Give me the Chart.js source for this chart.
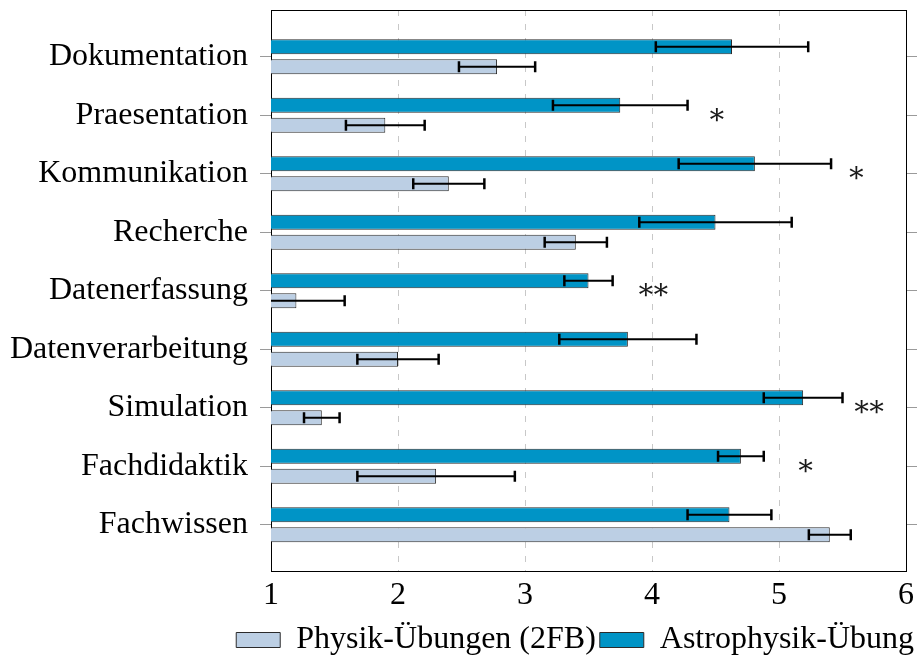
<!DOCTYPE html>
<html>
<head>
<meta charset="utf-8">
<script src="https://cdn.jsdelivr.net/npm/chart.js@4/dist/chart.umd.min.js"></script>
<style>
  body { margin: 0; background: #fff; }
  canvas { display: block; }
</style>
</head>
<body>
<canvas id="myChart" width="919" height="659"></canvas>
<script>
// Kategorien (von oben nach unten)
const categories = ["Dokumentation", "Praesentation", "Kommunikation", "Recherche", "Datenerfassung",
  "Datenverarbeitung", "Simulation", "Fachdidaktik", "Fachwissen"];

// Mittelwerte und Fehler
const astro = [4.63, 3.75, 4.81, 4.50, 3.50, 3.81, 5.19, 4.70, 4.61];
const astroErr = [0.60, 0.53, 0.60, 0.60, 0.19, 0.54, 0.31, 0.18, 0.33];
const physik = [2.78, 1.90, 2.40, 3.40, 1.20, 2.00, 1.40, 2.30, 5.40];
const physikErr = [0.30, 0.31, 0.28, 0.245, 0.38, 0.32, 0.14, 0.62, 0.165];

// Signifikanz-Sterne und wo sie stehen
const sigStars = [0, 1, 1, 0, 2, 0, 2, 1, 0];
const sigAt = [null, 4.51, 5.61, null, 4.01, null, 5.71, 5.21, null];

const xTicks = [1, 2, 3, 4, 5, 6];

const serif = "'Liberation Serif', 'Times New Roman', serif";

const toPoints = vals => vals.map((v, i) => ({ x: v, y: i }));

const data = {
  datasets: [{
      label: "Astrophysik-Übung",
      data: toPoints(astro),
      errors: astroErr,
      backgroundColor: "#0094c6",
      borderColor: "#2b2b2b",
      borderWidth: 1,
      borderSkipped: false,
    },
    {
      label: "Physik-Übungen (2FB)",
      data: toPoints(physik),
      errors: physikErr,
      backgroundColor: "#bccfe4",
      borderColor: "#2b2b2b",
      borderWidth: 1,
      borderSkipped: false,
    }
  ]
};

// Fehlerbalken + Sterne
const extras = {
  id: "extras",
  afterDatasetsDraw(chart) {
    const { ctx, chartArea, scales } = chart;
    const x = scales.x, y = scales.y;
    ctx.save();
    ctx.beginPath();
    ctx.rect(chartArea.left, chartArea.top, chartArea.width, chartArea.height);
    ctx.clip();
    ctx.strokeStyle = "#000";
    chart.data.datasets.forEach((ds, di) => {
      const meta = chart.getDatasetMeta(di);
      meta.data.forEach((bar, i) => {
        const v = ds.data[i].x;
        const e = ds.errors[i];
        const x0 = x.getPixelForValue(v - e);
        const x1 = x.getPixelForValue(v + e);
        const yy = bar.y;
        ctx.lineWidth = 2;
        ctx.beginPath();
        ctx.moveTo(x0, yy);
        ctx.lineTo(x1, yy);
        ctx.stroke();
        ctx.lineWidth = 2.5;
        ctx.beginPath();
        ctx.moveTo(x0, yy - 5.5);
        ctx.lineTo(x0, yy + 5.5);
        ctx.moveTo(x1, yy - 5.5);
        ctx.lineTo(x1, yy + 5.5);
        ctx.stroke();
      });
    });
    ctx.fillStyle = "#1a1a1a";
    ctx.font = "29px 'DejaVu Serif', serif";
    ctx.textAlign = "center";
    ctx.textBaseline = "middle";
    sigStars.forEach((n, i) => {
      if (!n) return;
      const cx = x.getPixelForValue(sigAt[i]);
      const cy = y.getPixelForValue(i) + 1;
      for (let k = 0; k < n; k++) {
        ctx.fillText("∗", cx + (k - (n - 1) / 2) * 15, cy);
      }
    });
    ctx.restore();
  }
};

// Kategorie-Achse als lineare Achse, damit oben/unten mehr Luft bleibt
const catAxis = (position, showLabels) => ({
  type: "linear",
  position: position,
  min: -0.8,
  max: 8.8,
  reverse: true,
  offset: false,
  afterBuildTicks: s => { s.ticks = categories.map((c, i) => ({ value: i })); },
  afterFit: s => {
    s.paddingTop = 0;
    s.paddingBottom = 0;
    if (showLabels) s.width = 271;
  },
  grid: { offset: false, drawOnChartArea: false, tickLength: 11, color: "#9a9a9a", lineWidth: 1 },
  border: { color: "#000", width: 1 },
  ticks: {
    display: showLabels,
    padding: 12,
    color: "#000",
    font: { family: serif, size: 32 },
    callback: v => categories[v]
  }
});

const config = {
  type: "bar",
  data: data,
  options: {
    indexAxis: "y",
    responsive: false,
    animation: false,
    categoryPercentage: 0.685,
    barPercentage: 0.75,
    layout: { padding: { top: 10, right: 1, bottom: -7, left: 0 } },
    scales: {
      x: {
        type: "linear",
        position: "bottom",
        min: 1,
        max: 6,
        afterBuildTicks: s => { s.ticks = xTicks.map(v => ({ value: v })); },
        grid: { color: "#c8c8c8", lineWidth: 1, drawTicks: false },
        border: { color: "#000", width: 1, dash: [6, 8] },
        ticks: {
          padding: 5,
          color: "#000",
          font: { family: serif, size: 32 }
        }
      },
      xTop: {
        type: "linear",
        position: "top",
        min: 1,
        max: 6,
        grid: { display: false, drawTicks: false },
        border: { color: "#000", width: 1 },
        ticks: { display: false }
      },
      y: catAxis("left", true),
      yRight: catAxis("right", false)
    },
    plugins: {
      legend: {
        position: "bottom",
        align: "end",
        reverse: true,
        labels: {
          color: "#000",
          font: { family: serif, size: 32 },
          boxWidth: 44,
          boxHeight: 15,
          padding: 4
        }
      },
      tooltip: { enabled: false }
    }
  },
  plugins: [extras]
};

var ctx = document.getElementById("myChart").getContext("2d");
var myChart = new Chart(ctx, config);
</script>
</body>
</html>
